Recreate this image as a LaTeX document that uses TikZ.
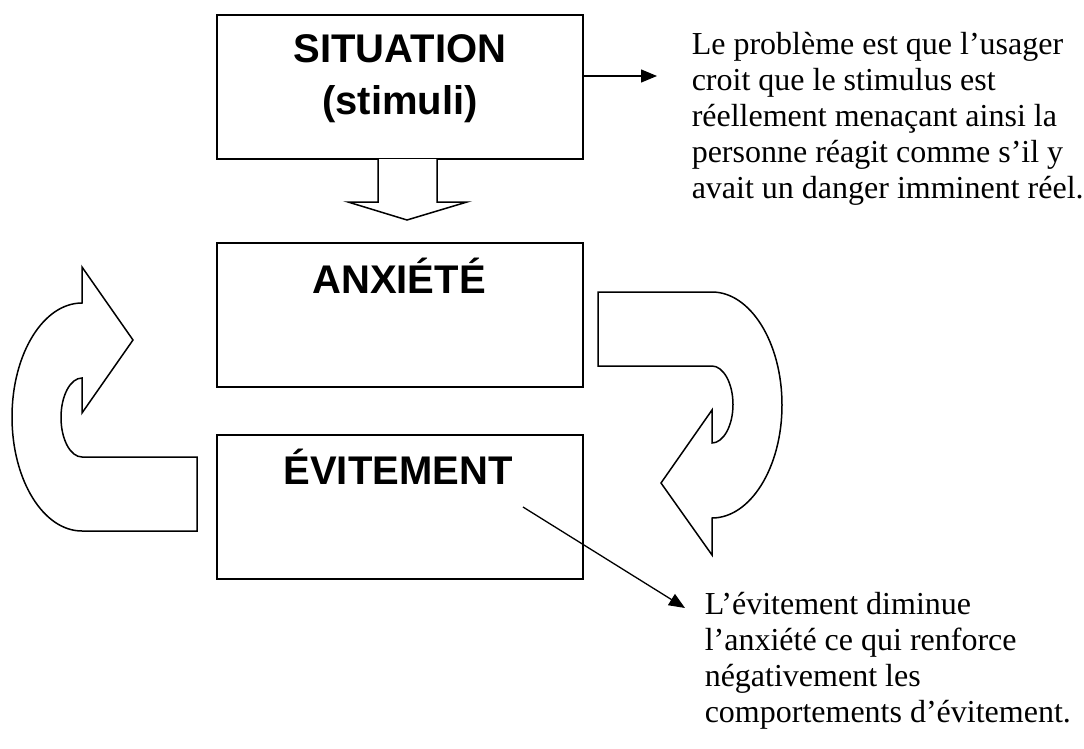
\documentclass[tikz,border=0pt]{standalone}
\usepackage{fontspec}
\setmainfont{Liberation Serif}
\newfontfamily\arialfont{Liberation Sans}
\usetikzlibrary{arrows.meta}
\begin{document}
\begin{tikzpicture}[x=1pt,y=-1pt, line width=1.5pt, line join=miter,
  box/.style={draw, minimum width=366pt, minimum height=144pt, inner sep=0pt},
  title/.style={font=\arialfont\bfseries\fontsize{40}{45}\selectfont, inner sep=0pt, anchor=base},
  para/.style={font=\fontsize{32}{36}\selectfont, inner sep=0pt, anchor=base west, align=left},
  bigarrow/.style={draw, fill=white, line width=1.5pt},
  ptr/.style={line width=1.3pt, -{Triangle[length=16pt,width=13pt]}}]
\useasboundingbox (0,0) rectangle (1084,749);

% boxes
\node[box] (sit) at (400,87) {};
\node[box] (anx) at (400,315) {};
\node[box] (evi) at (400,507) {};
\node[title] (sitA) at (400,63) {SITUATION};
\node[title] (sitB) at (400,115) {(stimuli)};
\node[title] (anxT) at (399,293) {ANXIÉTÉ};
\node[title] (eviT) at (398,484) {ÉVITEMENT};

% down block arrow
\draw[bigarrow] (378,159) -- (378,202) -- (348,202) -- (407,220) -- (467,202) -- (437,202) -- (437,159);

% left curved arrow
\draw[bigarrow] (197,457) -- (82,457)
  .. controls (70.4,457) and (61,439.3) .. (61,417.5)
  .. controls (61,395.7) and (70.4,378) .. (82,378)
  -- (82,413) -- (133,340) -- (82,267) -- (82,303)
  .. controls (43.3,303) and (12,354) .. (12,417)
  .. controls (12,480) and (43.3,531) .. (82,531)
  -- (197,531) -- cycle;

% right curved arrow
\draw[bigarrow] (598,292) -- (712,292)
  .. controls (750.4,292) and (782,342.6) .. (782,405)
  .. controls (782,467.4) and (750.4,518) .. (712,518)
  -- (712,555) -- (661,483) -- (712,410) -- (712,443)
  .. controls (723.3,443) and (733,425.8) .. (733,404.5)
  .. controls (733,383.2) and (723.3,366) .. (712,366)
  -- (598,366) -- cycle;

% texts (base anchor = last line)
\node[para] (txt1) at (691,198) {Le problème est que l’usager\\croit que le stimulus est\\réellement menaçant ainsi la\\personne réagit comme s’il y\\avait un danger imminent réel.};
\node[para] (txt2) at (704,722) {L’évitement diminue\\l’anxiété ce qui renforce\\négativement les\\comportements d’évitement.};

% pointers
\coordinate (t1) at (657,76);
\draw[ptr] ([yshift=11pt]sit.east) -- (t1);
\coordinate (e1) at (523,507);
\coordinate (e2) at (685,608);
\draw[ptr] (e1) -- (e2);
\end{tikzpicture}
\end{document}
